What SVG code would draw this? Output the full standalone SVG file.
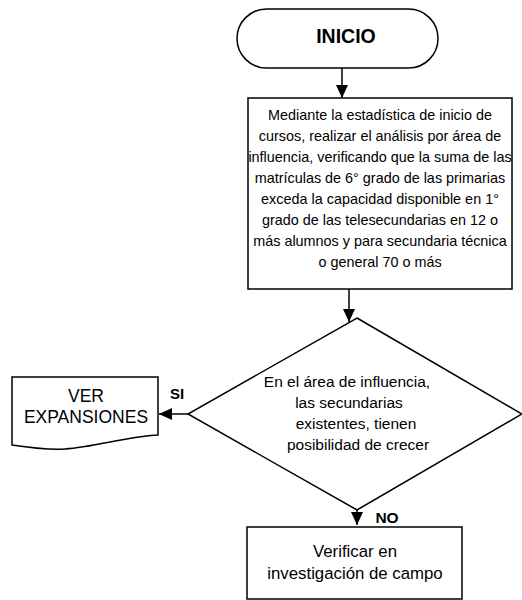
<svg xmlns="http://www.w3.org/2000/svg" width="522" height="600" viewBox="0 0 522 600">
<style>
.s{fill:#fff;stroke:#000;stroke-width:1.5}
.t{font-family:"Liberation Sans",Arial,sans-serif;fill:#000;text-anchor:middle}
.c{stroke:#000;stroke-width:1.5;fill:none}
</style>
<defs>
<marker id="ah" markerUnits="userSpaceOnUse" markerWidth="14" markerHeight="12" refX="13" refY="6" orient="auto">
<path d="M0,0 L13,6 L0,12 Z" fill="#000"/>
</marker>
</defs>
<rect width="522" height="600" fill="#fff"/>
<g id="inicio">
<rect class="s" x="237" y="9" width="201" height="59" rx="29.5" ry="29.5"/>
<text class="t" x="346" y="43" font-size="19.5" font-weight="bold">INICIO</text>
</g>
<g id="proceso">
<rect class="s" x="248" y="98" width="264" height="191"/>
<g class="t" font-size="14.4">
<text x="380" y="120">Mediante la estadística de inicio de</text>
<text x="380" y="141">cursos, realizar el análisis por área de</text>
<text x="380" y="162">influencia, verificando que la suma de las</text>
<text x="380" y="183">matrículas de 6° grado de las primarias</text>
<text x="380" y="204">exceda la capacidad disponible en 1°</text>
<text x="380" y="225">grado de las telesecundarias en 12 o</text>
<text x="380" y="246">más alumnos y para secundaria técnica</text>
<text x="380" y="267">o general 70 o más</text>
</g>
</g>
<g id="decision">
<polygon class="s" points="357,318 522,414 357,510 188,414"/>
<g class="t" font-size="15.5">
<text x="347" y="387">En el área de influencia,</text>
<text x="349" y="408">las secundarias</text>
<text x="356" y="429">existentes, tienen</text>
<text x="358" y="450">posibilidad de crecer</text>
</g>
</g>
<g id="expansiones">
<path class="s" d="M12,377 H158 V435 C125,437 95,447 65,449 C45,450 25,447 12,445 Z"/>
<g class="t" font-size="17.5">
<text x="86" y="402">VER</text>
<text x="86" y="423">EXPANSIONES</text>
</g>
</g>
<g id="verificar">
<rect class="s" x="247" y="527" width="215" height="72"/>
<g class="t" font-size="16.8">
<text x="355" y="557">Verificar en</text>
<text x="355" y="579">investigación de campo</text>
</g>
</g>
<g id="connectors">
<line class="c" x1="342" y1="68" x2="342" y2="98" marker-end="url(#ah)"/>
<line class="c" x1="349" y1="289" x2="349" y2="322" marker-end="url(#ah)"/>
<line class="c" x1="188" y1="414" x2="159" y2="414" marker-end="url(#ah)"/>
<line class="c" x1="357" y1="510" x2="357" y2="525" marker-end="url(#ah)"/>
<text class="t" x="177" y="399" font-size="15" font-weight="bold">SI</text>
<text class="t" x="387" y="523" font-size="15.5" font-weight="bold">NO</text>
</g>
</svg>
